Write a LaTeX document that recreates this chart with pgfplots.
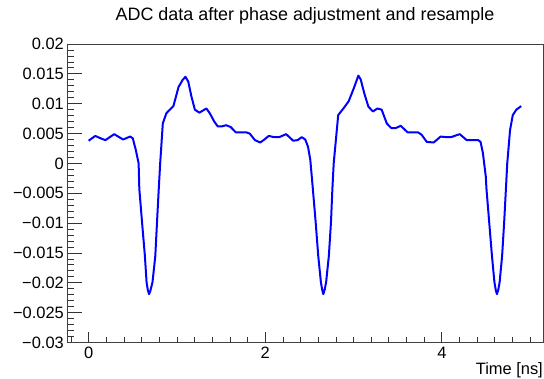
\documentclass[border=0pt]{standalone}
\usepackage{pgfplots}
\pgfplotsset{compat=1.18}
\usepackage{fontspec}
\setmainfont{Liberation Sans}
\begin{document}
\begin{tikzpicture}
\begin{axis}[
  scale only axis,
  width=476bp, height=298.5bp,
  at={(0,0)}, anchor=south west,
  xmin=-0.245, xmax=5.145,
  ymin=-0.03, ymax=0.02,
  axis line style={black!75, line width=0.9bp},
  tick align=inside,
  xtick pos=lower, ytick pos=left,
  xtick={0,2,4}, xticklabels={0,2,4},
  minor xtick={-0.2,0.2,0.4,0.6,0.8,1.0,1.2,1.4,1.6,1.8,2.2,2.4,2.6,2.8,3.0,3.2,3.4,3.6,3.8,4.2,4.4,4.6,4.8,5.0},
  ytick={-0.03,-0.025,-0.02,-0.015,-0.01,-0.005,0,0.005,0.01,0.015,0.02},
  yticklabels={−0.03,−0.025,−0.02,−0.015,−0.01,−0.005,0,0.005,0.01,0.015,0.02},
  minor ytick={-0.029,-0.028,-0.027,-0.026,-0.024,-0.023,-0.022,-0.021,-0.019,-0.018,-0.017,-0.016,-0.014,-0.013,-0.012,-0.011,-0.009,-0.008,-0.007,-0.006,-0.004,-0.003,-0.002,-0.001,0.001,0.002,0.003,0.004,0.006,0.007,0.008,0.009,0.011,0.012,0.013,0.014,0.016,0.017,0.018,0.019},
  scaled y ticks=false, scaled x ticks=false,
  major tick style={black!80, line width=0.8bp},
  minor tick style={black!80, line width=0.8bp},
  every major x tick/.style={/pgfplots/major tick length=10.5bp},
  every minor x tick/.style={/pgfplots/minor tick length=5.5bp},
  every major y tick/.style={/pgfplots/major tick length=15bp},
  every minor y tick/.style={/pgfplots/minor tick length=7.5bp},
  major tick length=15bp, minor tick length=7.5bp,
  yticklabel style={font=\fontsize{16.5}{18}\selectfont, anchor=east, inner sep=0pt, xshift=-3bp},
  xticklabel style={font=\fontsize{16.5}{18}\selectfont, anchor=north, inner sep=0pt, yshift=-4bp},
  xlabel={Time [ns]},
  xlabel style={font=\fontsize{16.5}{18}\selectfont, at={(1,0)}, anchor=north east, inner sep=0pt, yshift=-20bp},
  title={ADC data after phase adjustment and resample},
  title style={font=\fontsize{18}{20}\selectfont, at={(0.5,1)}, anchor=base, inner sep=0pt, yshift=18bp},
]
\addplot[blue, line width=2bp, line join=round, no marks] coordinates {
(0.000,0.0038) (0.075,0.0046) (0.153,0.0041) (0.190,0.0039) (0.290,0.0049)
(0.390,0.0040) (0.470,0.0045) (0.500,0.0042) (0.535,0.0022) (0.566,0.0000)
(0.574,-0.0043) (0.605,-0.0099) (0.637,-0.0155) (0.656,-0.0199) (0.670,-0.0212)
(0.684,-0.0219) (0.700,-0.0213) (0.723,-0.0199) (0.755,-0.0155) (0.774,-0.0099)
(0.794,-0.0043) (0.810,0.0000) (0.840,0.0067) (0.880,0.0084) (0.960,0.0096)
(1.018,0.0128) (1.065,0.0140) (1.097,0.0145) (1.128,0.0137) (1.164,0.0112)
(1.203,0.0090) (1.254,0.0085) (1.333,0.0092) (1.372,0.0084) (1.423,0.0070)
(1.462,0.0062) (1.509,0.0062) (1.557,0.0064) (1.608,0.0061) (1.667,0.0052)
(1.785,0.0052) (1.824,0.0050) (1.883,0.0039) (1.942,0.0035) (1.981,0.0039)
(2.040,0.0046) (2.099,0.0044) (2.158,0.0044) (2.237,0.0049) (2.316,0.0038)
(2.366,0.0039) (2.413,0.0044) (2.453,0.0040) (2.484,0.0028) (2.510,0.0006)
(2.539,-0.0043) (2.571,-0.0099) (2.600,-0.0155) (2.630,-0.0199) (2.645,-0.0212)
(2.657,-0.0219) (2.672,-0.0212) (2.689,-0.0199) (2.720,-0.0155) (2.744,-0.0099)
(2.760,-0.0043) (2.775,0.0000) (2.826,0.0081) (2.885,0.0092) (2.944,0.0104)
(3.003,0.0126) (3.054,0.0147) (3.080,0.0141) (3.120,0.0118) (3.168,0.0095)
(3.219,0.0087) (3.270,0.0092) (3.318,0.0090) (3.376,0.0067) (3.428,0.0059)
(3.475,0.0059) (3.534,0.0063) (3.612,0.0052) (3.730,0.0052) (3.770,0.0048)
(3.829,0.0036) (3.907,0.0035) (3.986,0.0045) (4.045,0.0044) (4.104,0.0044)
(4.202,0.0049) (4.281,0.0039) (4.360,0.0039) (4.411,0.0039) (4.438,0.0036)
(4.465,0.0017) (4.497,-0.0022) (4.505,-0.0043) (4.536,-0.0099) (4.567,-0.0155)
(4.595,-0.0199) (4.610,-0.0212) (4.623,-0.0219) (4.638,-0.0212) (4.654,-0.0199)
(4.682,-0.0155) (4.705,-0.0099) (4.725,-0.0043) (4.740,0.0000) (4.772,0.0056)
(4.803,0.0081) (4.843,0.0090) (4.898,0.0096)
};
\end{axis}
\path[use as bounding box] (-67bp,-36.5bp) rectangle (477bp,342.5bp);
\end{tikzpicture}
\end{document}
